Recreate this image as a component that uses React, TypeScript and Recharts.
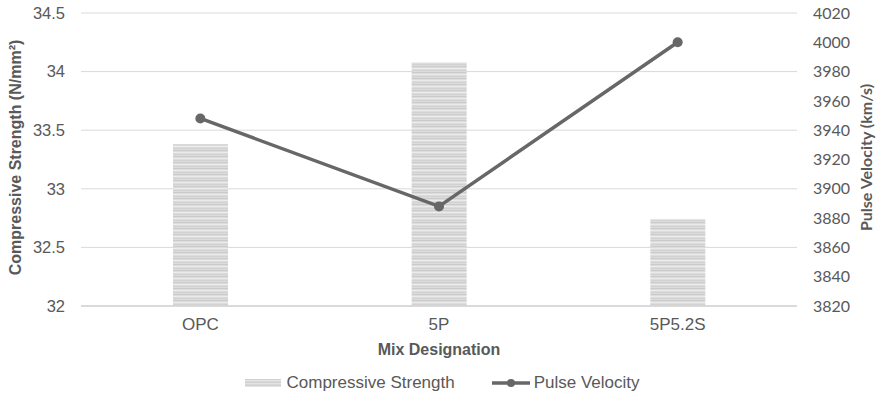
import React from "react";
import {
  ComposedChart,
  Bar,
  Line,
  XAxis,
  YAxis,
  CartesianGrid,
  Legend,
} from "recharts";

const categories = ["OPC", "5P", "5P5.2S"];
const compressiveStrength = [33.38, 34.08, 32.74];
const pulseVelocity = [3948, 3888, 4000];
const leftTicks = [32, 32.5, 33, 33.5, 34, 34.5];
const rightTicks = [3820, 3840, 3860, 3880, 3900, 3920, 3940, 3960, 3980, 4000, 4020];

const data = categories.map((c, i) => ({
  name: c,
  strength: compressiveStrength[i],
  velocity: pulseVelocity[i],
}));

const TEXT = "#595959";
const LINE = "#676767";

const LegendContent = () => (
  <div
    style={{
      display: "flex",
      justifyContent: "center",
      alignItems: "center",
      height: 30,
      paddingLeft: 9,
      fontFamily: "'Liberation Sans', Arial, sans-serif",
      fontSize: 17,
      color: TEXT,
    }}
  >
    <span
      style={{
        display: "inline-block",
        width: 36,
        height: 8,
        marginRight: 5,
        background:
          "repeating-linear-gradient(180deg, #d0d0d0 0px, #d0d0d0 1px, #e4e4e4 1px, #e4e4e4 2px, #d8d8d8 2px, #d8d8d8 3px)",
      }}
    />
    <span>Compressive Strength</span>
    <svg width={38} height={12} style={{ marginLeft: 37, marginRight: 4 }}>
      <line x1={0} y1={6} x2={38} y2={6} stroke={LINE} strokeWidth={3.5} />
      <circle cx={19} cy={6} r={4} fill={LINE} />
    </svg>
    <span>Pulse Velocity</span>
  </div>
);

export default function App() {
  return (
    <div style={{ position: "absolute", left: 0, top: 0, background: "#fff" }}>
      <ComposedChart
        width={876}
        height={404}
        data={data}
        margin={{ top: 13, right: 0, bottom: 6, left: 0 }}
      >
        <defs>
          <pattern id="stripes" patternUnits="userSpaceOnUse" width={8} height={6}>
            <rect x={0} y={0} width={8} height={6} fill="#dcdcdc" />
            <rect x={0} y={0} width={8} height={1} fill="#cbcbcb" />
            <rect x={0} y={2} width={8} height={1} fill="#ebebeb" />
            <rect x={0} y={4} width={8} height={1} fill="#d2d2d2" />
          </pattern>
        </defs>
        <CartesianGrid
          yAxisId="left"
          vertical={false}
          stroke="#d9d9d9"
          strokeWidth={1}
        />
        <XAxis
          dataKey="name"
          height={62}
          axisLine={{ stroke: "#d4d4d4", strokeWidth: 1.5 }}
          tickLine={false}
          tickSize={0}
          tickMargin={12}
          tick={{ fill: TEXT, fontSize: 17, fontFamily: "'Liberation Sans', Arial, sans-serif" }}
          label={{
            value: "Mix Designation",
            position: "insideBottom",
            offset: 13,
            fill: TEXT,
            fontSize: 16,
            fontWeight: "bold",
            fontFamily: "'Liberation Sans', Arial, sans-serif",
          }}
        />
        <YAxis
          yAxisId="left"
          orientation="left"
          width={81}
          domain={[32, 34.5]}
          ticks={leftTicks}
          axisLine={false}
          tickLine={false}
          tickSize={0}
          tickMargin={16}
          tick={{ fill: TEXT, fontSize: 16.5, fontFamily: "'Liberation Sans', Arial, sans-serif" }}
          label={{
            content: (props: any) => {
              const vb = props.viewBox;
              const cx = vb.x + 15;
              const cy = vb.y + vb.height / 2 - 2;
              return (
                <text
                  x={cx}
                  y={cy}
                  transform={`rotate(-90 ${cx} ${cy})`}
                  textAnchor="middle"
                  dominantBaseline="central"
                  fill={TEXT}
                  fontSize={16}
                  fontWeight="bold"
                  fontFamily="'Liberation Sans', Arial, sans-serif"
                >
                  Compressive Strength (N/mm²)
                </text>
              );
            },
          }}
        />
        <YAxis
          yAxisId="right"
          orientation="right"
          width={79}
          domain={[3820, 4020]}
          ticks={rightTicks}
          axisLine={false}
          tickLine={false}
          tickSize={0}
          tickMargin={16}
          tick={{ fill: TEXT, fontSize: 16, fontFamily: "Lato, sans-serif", textAnchor: "start" }}
          label={{
            content: (props: any) => {
              const vb = props.viewBox;
              const cx = vb.x + 68;
              const cy = vb.y + vb.height / 2 - 2;
              return (
                <text
                  x={cx}
                  y={cy}
                  transform={`rotate(-90 ${cx} ${cy})`}
                  textAnchor="middle"
                  dominantBaseline="central"
                  fill={TEXT}
                  fontSize={16}
                  fontWeight="bold"
                  fontFamily="Lato, sans-serif"
                >
                  Pulse Velocity (km/s)
                </text>
              );
            },
          }}
        />
        <Legend verticalAlign="bottom" height={30} wrapperStyle={{ left: 0, width: 876 }} content={<LegendContent />} />
        <Bar
          yAxisId="left"
          dataKey="strength"
          name="Compressive Strength"
          fill="url(#stripes)"
          barSize={55}
          isAnimationActive={false}
        />
        <Line
          yAxisId="right"
          dataKey="velocity"
          name="Pulse Velocity"
          stroke={LINE}
          strokeWidth={3.5}
          dot={{ r: 5, fill: LINE, stroke: LINE, strokeWidth: 0 }}
          activeDot={false}
          isAnimationActive={false}
        />
      </ComposedChart>
    </div>
  );
}
